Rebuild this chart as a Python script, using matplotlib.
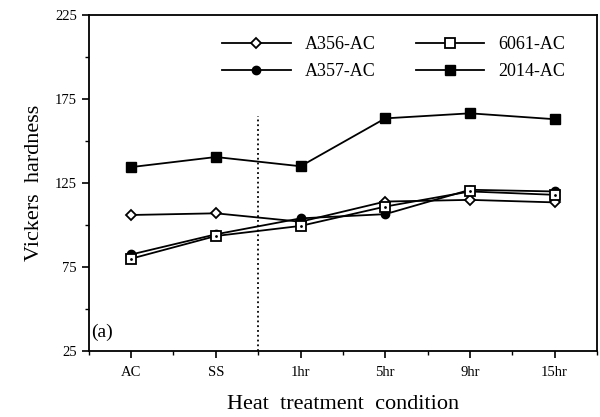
import matplotlib
matplotlib.use('Agg')
import matplotlib.pyplot as plt
from matplotlib.ticker import MultipleLocator

plt.rcParams['font.family'] = ['Liberation Serif', 'DejaVu Serif']

# data
conditions = ['AC', 'SS', '1hr', '5hr', '9hr', '15hr']
a356 = [106, 107, 102, 114, 115, 113.5]
a357 = [82.5, 94.5, 104, 106.5, 121, 120]
al6061 = [80, 93.5, 99.5, 111, 120, 118]
al2014 = [134.5, 140.5, 135, 163.5, 166.5, 163]

x = list(range(len(conditions)))

fig = plt.figure(figsize=(6, 4.17), dpi=100)
ax = fig.add_axes([0.148, 0.158, 0.847, 0.806])

ax.plot(x, a356, '-', color='k', lw=1.3, marker='D', ms=5, mfc='white', mec='k', mew=1.3, label='A356-AC')
ax.plot(x, a357, '-', color='k', lw=1.3, marker='o', ms=6, mfc='k', mec='k', label='A357-AC')
ax.plot(x, al6061, '-', color='k', lw=1.3, marker='s', ms=6.5, mfc='white', mec='k', mew=1.3, label='6061-AC')
ax.plot(x, al6061, ' ', marker='.', ms=2, color='k')
ax.plot(x, al2014, '-', color='k', lw=1.3, marker='s', ms=6.5, mfc='k', mec='k', label='2014-AC')

# dotted separator between as-received and aged conditions
ax.axvline(1.5, ymin=0, ymax=0.7, color='k', ls=':', lw=1.3)

ax.set_xlim(-0.5, 5.5)
ax.set_ylim(25, 225)
ax.set_xticks(x)
ax.set_xticklabels(conditions, fontsize=11)
ax.xaxis.set_minor_locator(MultipleLocator(0.5))
ax.set_yticks([25, 75, 125, 175, 225])
ax.yaxis.set_minor_locator(MultipleLocator(25))
ax.tick_params(which='major', direction='out', length=5, width=1.2, labelsize=10.5)
ax.tick_params(axis='x', which='major', pad=6)
ax.tick_params(which='minor', direction='out', length=3, width=1)
for s in ax.spines.values():
    s.set_linewidth(1.3)

ax.set_xlabel('Heat  treatment  condition', fontsize=16, labelpad=11)
ax.set_ylabel('Vickers  hardness', fontsize=16, labelpad=8)
ax.text(0.005, 0.03, '(a)', transform=ax.transAxes, fontsize=14, ha='left', va='bottom')

ax.legend(loc='upper left', bbox_to_anchor=(0.23, 0.985), ncol=2, frameon=False,
          fontsize=13, handlelength=3.8, handletextpad=0.8, columnspacing=2.2,
          labelspacing=0.55)

fig.savefig('out.png', dpi=100)
